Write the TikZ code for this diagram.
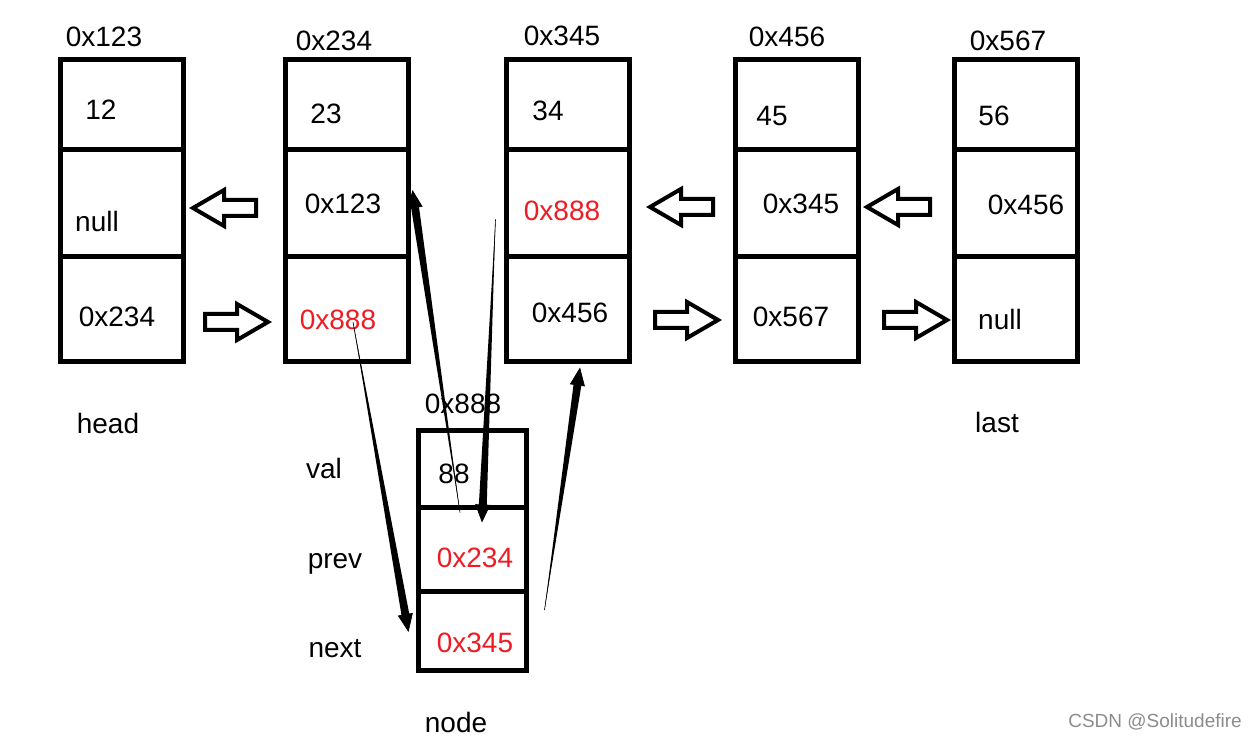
\documentclass[tikz,border=0pt]{standalone}
\usepackage{fontspec}
\setmainfont{Liberation Sans}
\usepackage{tikz}
\usetikzlibrary{shapes, arrows.meta, positioning, calc}
\definecolor{ptrred}{RGB}{237,28,36}
\tikzstyle{cell} = [draw, rectangle, line width=2.5pt, minimum width=61.5pt, inner sep=0pt]
\tikzstyle{ncell} = [cell, minimum width=54pt]
\tikzstyle{val} = [font=\fontsize{14}{16}\selectfont, inner sep=0pt]
\tikzstyle{hot} = [val, text=ptrred]
\tikzstyle{wm} = [font=\fontsize{9.5}{11}\selectfont, text=black!45, inner sep=0pt]
% three cells of one list node
\newcommand{\cells}[2]{%
  \node [cell, minimum height=45pt] (#11) at (#2,105) {};
  \node [cell, minimum height=53.5pt] (#12) at (#2,203.5) {};
  \node [cell, minimum height=52.5pt] (#13) at (#2,309.5) {};}
\newcommand{\blockarrow}[3]{\draw [line width=2pt, shift={(#1,#2)}, xscale=#3] (0,-8) -- (32,-8) -- (32,-18) -- (63,0) -- (32,18) -- (32,8) -- (0,8) -- cycle;}
\newcommand{\taper}[2]{%
  \coordinate (tp) at ($(#2)!7pt!(#1)$);
  \fill (#1) -- ($(tp)!2pt!90:(#1)$) -- ($(tp)!2pt!-90:(#1)$) -- cycle;
  \draw [-{Triangle[length=9pt,width=7.5pt]}, line width=0.3pt] (#1) -- (#2);}

\begin{document}
\begin{tikzpicture}[x=0.5pt, y=-0.5pt]
    \useasboundingbox (0,0) rectangle (1256,742);
    \cells{a}{121.5}
    \cells{b}{346.5}
    \cells{c}{567.5}
    \cells{d}{796.5}
    \cells{e}{1015.5}
    \node [ncell, minimum height=38.5pt] (n1) at (472,468.5) {};
    \node [ncell, minimum height=42pt] (n2) at (472,549) {};
    \node [ncell, minimum height=39.5pt] (n3) at (472,630.5) {};

    % addresses
    \node [val] (aaddr) at (104,37) {0x123};
    \node [val] (baddr) at (334,41) {0x234};
    \node [val] (caddr) at (562,36) {0x345};
    \node [val] (daddr) at (787,37) {0x456};
    \node [val] (eaddr) at (1008,41) {0x567};
    \node [val] (naddr) at (463,404) {0x888};

    % contents
    \node [val] (a1t) at (101,110) {12};
    \node [val] (a2t) at (97,221) {null};
    \node [val] (a3t) at (117,317) {0x234};
    \node [val] (b1t) at (326,114) {23};
    \node [val] (b2t) at (343,204) {0x123};
    \node [hot] (b3t) at (338,320) {0x888};
    \node [val] (c1t) at (548,111) {34};
    \node [hot] (c2t) at (562,211) {0x888};
    \node [val] (c3t) at (570,313) {0x456};
    \node [val] (d1t) at (772,116) {45};
    \node [val] (d2t) at (801,204) {0x345};
    \node [val] (d3t) at (791,317) {0x567};
    \node [val] (e1t) at (994,116) {56};
    \node [val] (e2t) at (1026,205) {0x456};
    \node [val] (e3t) at (1000,319) {null};
    \node [val] (n1t) at (454,474) {88};
    \node [hot] (n2t) at (475,558) {0x234};
    \node [hot] (n3t) at (475,643) {0x345};

    \node [val] (head) at (108,423) {head};
    \node [val] (last) at (997,422) {last};
    \node [val] (vallbl) at (324,468) {val};
    \node [val] (prevlbl) at (335,564) {prev};
    \node [val] (nextlbl) at (335,649) {next};
    \node [val] (nodelbl) at (456,722) {node};
    \node [wm] (csdn) at (1155,722) {CSDN @Solitudefire};

    % hollow arrows
    \blockarrow{256}{208}{-1}
    \blockarrow{713}{207}{-1}
    \blockarrow{930}{207}{-1}
    \blockarrow{205}{322}{1}
    \blockarrow{655}{320}{1}
    \blockarrow{884}{320}{1}

    % links to the new node
    \coordinate (as) at ([shift={(6.5,12.5)}]b3.center);
    \coordinate (ae) at ([shift={(-7,1.5)}]n3.west);
    \coordinate (bs) at ([shift={(-12,8)}]n2.north);
    \coordinate (be) at ([shift={(2,-13.5)}]b2.east);
    \coordinate (cs) at ([shift={(-8,16)}]c2.west);
    \coordinate (ce) at ([shift={(10,18)}]n2.north);
    \coordinate (ds) at ([shift={(16,-20.5)}]n3.east);
    \coordinate (de) at ([shift={(12.5,3)}]c3.south);
    \taper{as}{ae}
    \taper{bs}{be}
    \taper{cs}{ce}
    \taper{ds}{de}
\end{tikzpicture}
\end{document}
